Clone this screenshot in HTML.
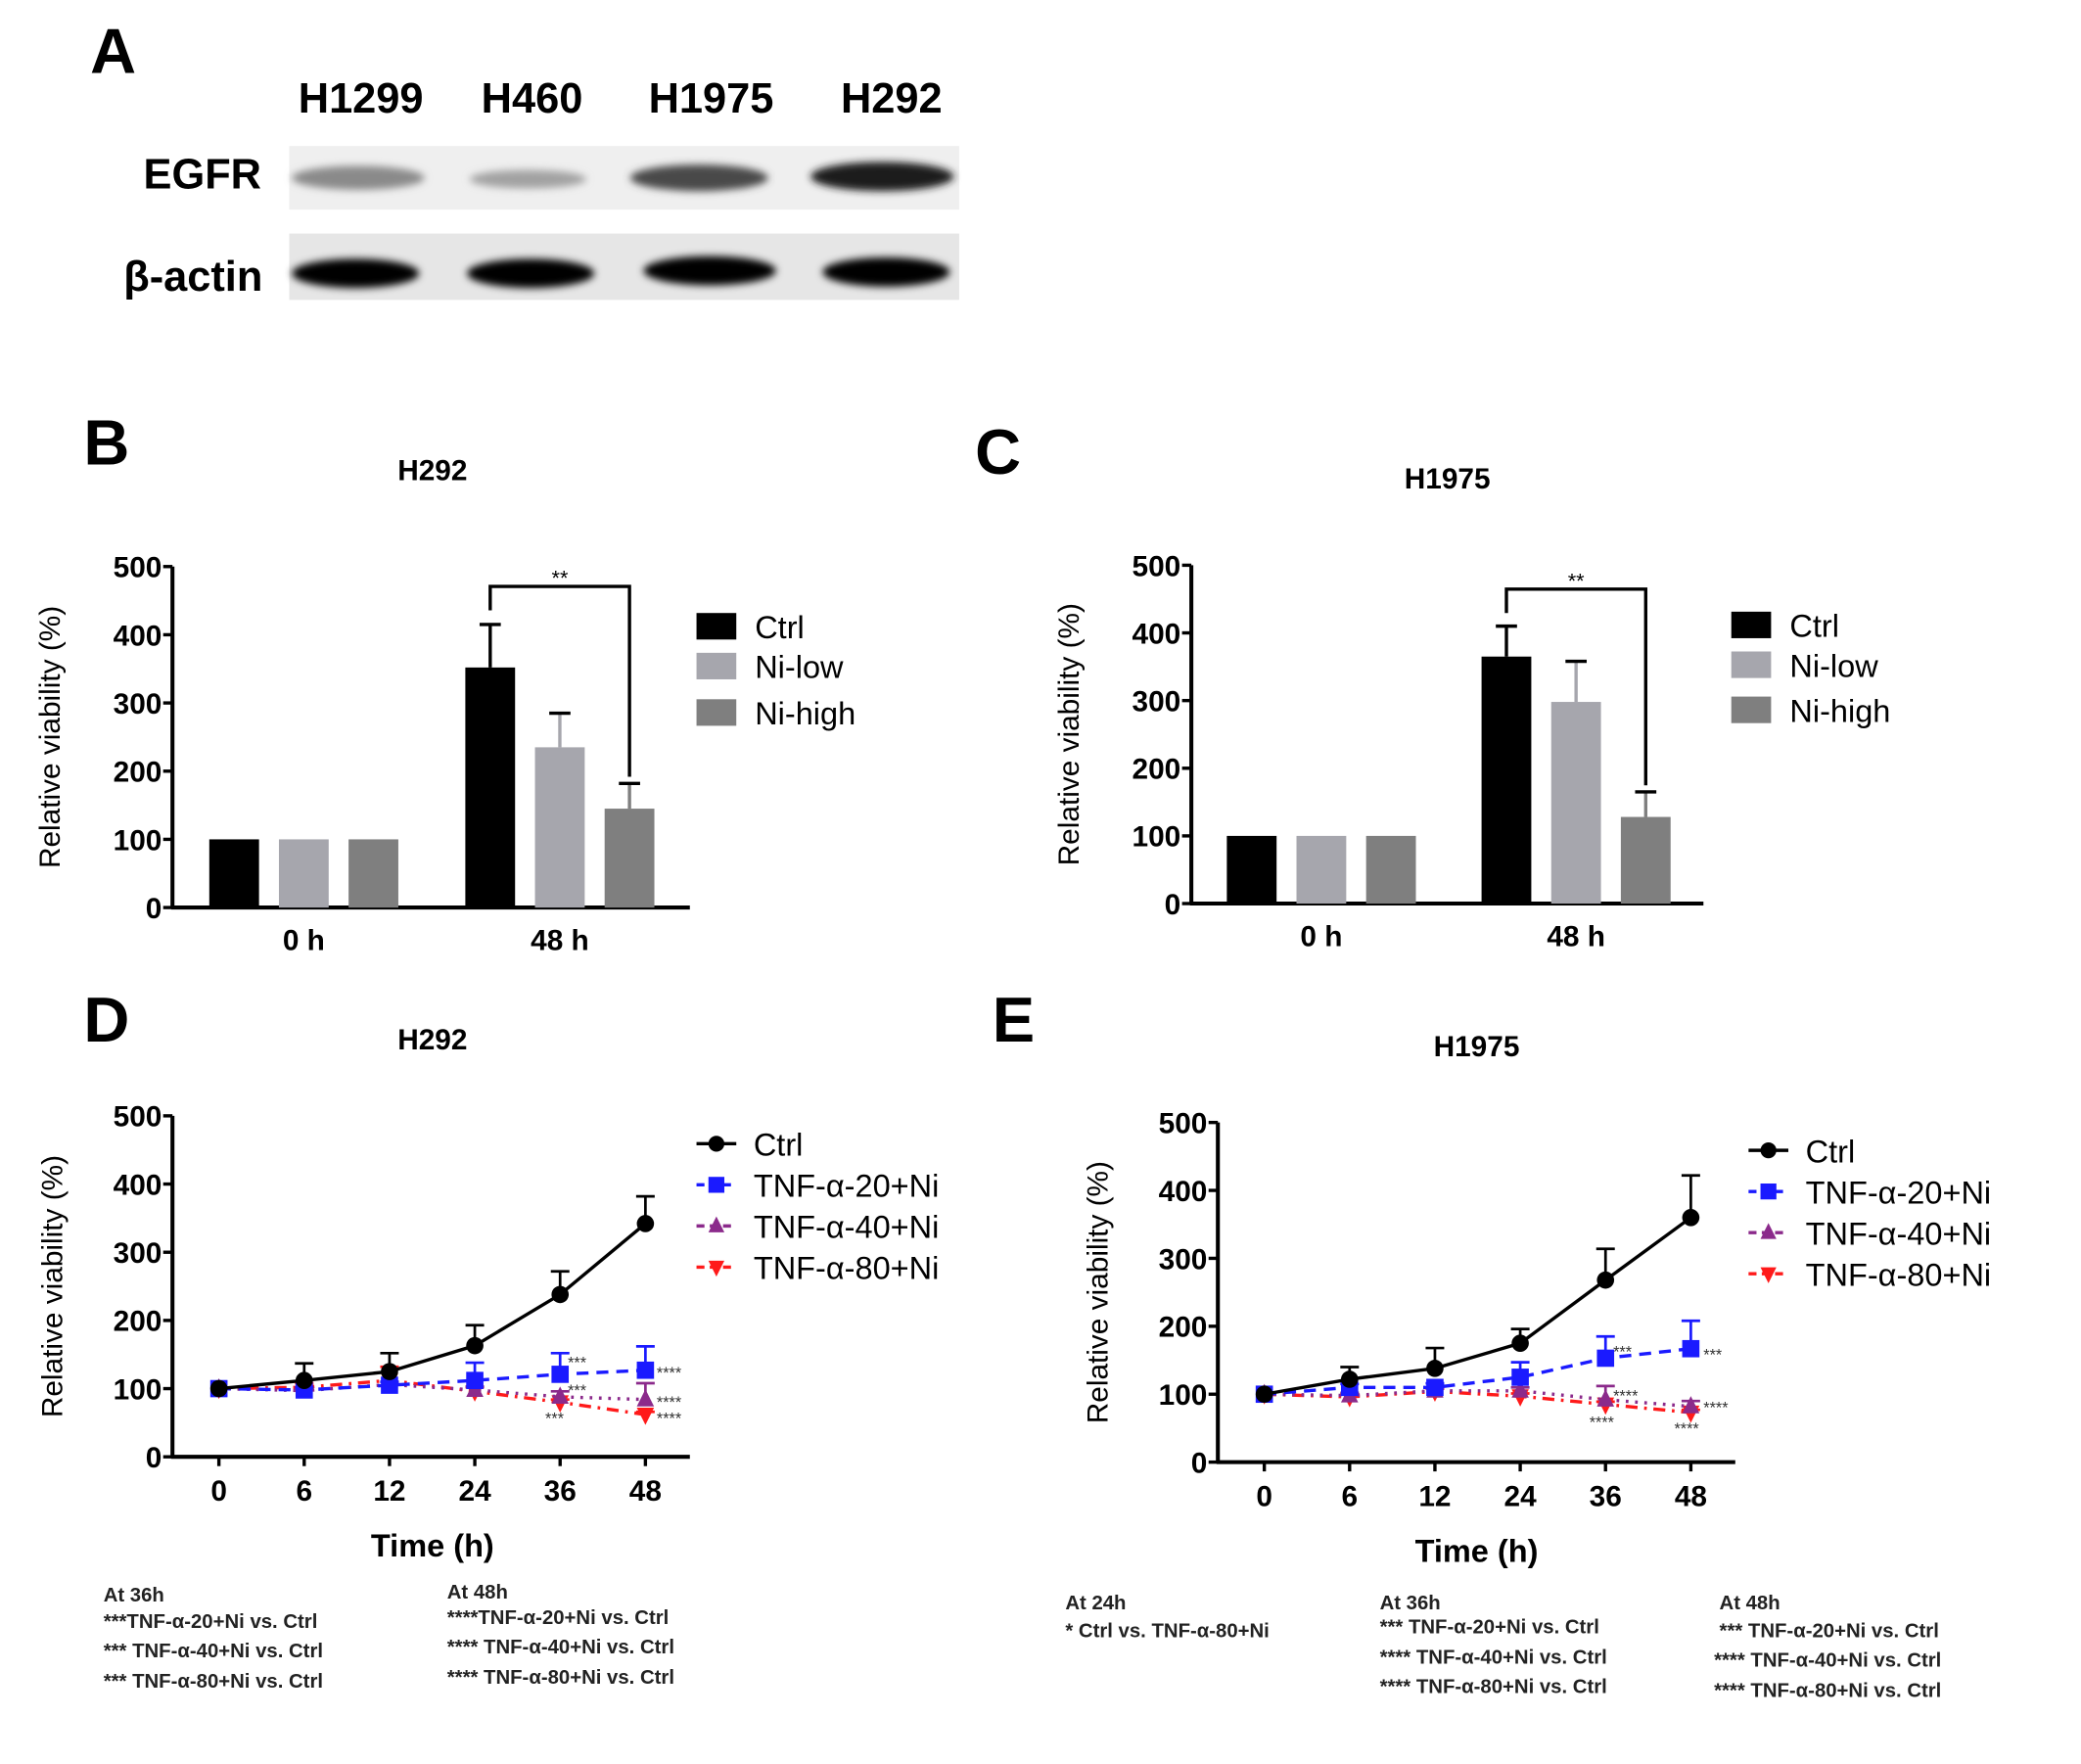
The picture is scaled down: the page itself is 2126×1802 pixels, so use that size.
<!DOCTYPE html>
<html><head><meta charset="utf-8"><style>
html,body{margin:0;padding:0;background:#fff;}
svg{display:block;font-family:"Liberation Sans",Arial,sans-serif;}
</style></head><body>
<svg id="fig" xmlns="http://www.w3.org/2000/svg" width="2126" height="1802" viewBox="0 0 1568.6 1329.5">
<rect width="1570" height="1330" fill="#fff"/>
<defs>
<filter id="blur" x="-20%" y="-50%" width="140%" height="200%"><feGaussianBlur stdDeviation="3"/></filter>
</defs>
<g>
<text x="68" y="55" font-size="48" font-weight="bold">A</text>
<g font-size="32" font-weight="bold" text-anchor="middle">
<text x="272" y="85">H1299</text>
<text x="401" y="85">H460</text>
<text x="536" y="85">H1975</text>
<text x="672" y="85">H292</text>
</g>
<text x="197" y="142" font-size="32" font-weight="bold" text-anchor="end">EGFR</text>
<text x="198" y="219" font-size="32" font-weight="bold" text-anchor="end">β-actin</text>
<rect x="218" y="110" width="505" height="48" fill="#efefef"/>
<rect x="218" y="176" width="505" height="50" fill="#e6e6e6"/>
<g filter="url(#blur)">
<ellipse cx="270" cy="134" rx="50" ry="9" fill="#8a8a8a"/>
<ellipse cx="398" cy="135" rx="44" ry="7" fill="#a2a2a2"/>
<ellipse cx="527" cy="134" rx="52" ry="10" fill="#4a4a4a"/>
<ellipse cx="665" cy="133" rx="54" ry="11" fill="#1e1e1e"/>
<ellipse cx="268" cy="206" rx="48" ry="11" fill="#000"/>
<ellipse cx="400" cy="206" rx="48" ry="11" fill="#000"/>
<ellipse cx="535" cy="204" rx="50" ry="11" fill="#000"/>
<ellipse cx="668" cy="205" rx="48" ry="11" fill="#000"/>
</g>
</g>
<text x="63" y="350" font-size="48" font-weight="bold">B</text>
<text x="735" y="357" font-size="48" font-weight="bold">C</text>
<text x="63" y="785" font-size="48" font-weight="bold">D</text>
<text x="748" y="785" font-size="48" font-weight="bold">E</text>
<g id="charts"></g>
</svg>
<script>
const barGroups = ["0 h", "48 h"];
const barSeries = ["Ctrl", "Ni-low", "Ni-high"];
const barColors = ["#000000", "#a6a6ad", "#7f7f7f"];
const bValues = [[100, 100, 100], [352, 235, 145]];
const bErrors = [[0, 0, 0], [63, 50, 37]];
const cValues = [[100, 100, 100], [365, 298, 128]];
const cErrors = [[0, 0, 0], [45, 60, 37]];
const yTicks = [0, 100, 200, 300, 400, 500];
const timeLabels = ["0", "6", "12", "24", "36", "48"];
const lineSeries = ["Ctrl", "TNF-α-20+Ni", "TNF-α-40+Ni", "TNF-α-80+Ni"];
const dCtrl = [100, 112, 125, 163, 238, 342];
const dCtrlErr = [0, 25, 27, 30, 34, 40];
const dT20 = [100, 98, 105, 112, 121, 127];
const dT20Err = [0, 4, 5, 26, 31, 35];
const dT40 = [100, 97, 106, 98, 88, 84];
const dT40Err = [0, 3, 4, 5, 8, 24];
const dT80 = [100, 102, 112, 96, 80, 62];
const dT80Err = [0, 6, 20, 6, 4, 4];
const eCtrl = [100, 122, 138, 175, 268, 360];
const eCtrlErr = [0, 18, 30, 21, 46, 62];
const eT20 = [100, 110, 110, 125, 153, 167];
const eT20Err = [0, 5, 6, 22, 32, 41];
const eT40 = [100, 98, 105, 105, 92, 82];
const eT40Err = [0, 4, 4, 5, 20, 8];
const eT80 = [100, 96, 104, 97, 85, 73];
const eT80Err = [0, 4, 4, 4, 4, 4];

const NS = "http://www.w3.org/2000/svg";
const root = document.getElementById("charts");
function mk(tag, attrs, parent, text) {
  const e = document.createElementNS(NS, tag);
  for (const k in attrs) e.setAttribute(k, attrs[k]);
  if (text !== undefined) e.textContent = text;
  (parent || root).appendChild(e);
  return e;
}

function yAxis(g, x0, yTop, yBot, xEnd, title, titleX) {
  const ys = v => yBot - (v / 500) * (yBot - yTop);
  let a = mk("line", {x1: x0, y1: yTop, x2: x0, y2: yBot + 1, stroke: "#000", "stroke-width": 3}, g);
  
  
  a = mk("line", {x1: x0 - 1, y1: yBot, x2: xEnd, y2: yBot, stroke: "#000", "stroke-width": 3}, g);
  
  
  yTicks.forEach(t => {
    mk("line", {x1: x0 - 7, y1: ys(t), x2: x0, y2: ys(t), stroke: "#000", "stroke-width": 2.5}, g);
    const tl = mk("text", {x: x0 - 8, y: ys(t) + 8, "font-size": 22, "font-weight": "bold", "text-anchor": "end"}, g, String(t));
    
    
  });
  const tt = mk("text", {x: 0, y: 0, "font-size": 22, "text-anchor": "middle", transform: `translate(${titleX},${(yTop + yBot) / 2}) rotate(-90)`}, g, title);
  
  
  return ys;
}

function barChart(name, cfg, values, errors) {
  const g = mk("g", {});
  
  
  const t = mk("text", {x: cfg.titleX, y: cfg.titleY, "font-size": 22, "font-weight": "bold", "text-anchor": "middle"}, g, cfg.title);
  
  
  const ys = yAxis(g, cfg.x0, cfg.yTop, cfg.yBot, cfg.xEnd, "Relative viability (%)", cfg.x0 - 85);
  const bw = 37.5;
  barGroups.forEach((grp, gi) => {
    const gx = cfg.groupX[gi];
    barSeries.forEach((s, si) => {
      const x = gx + (si - 1) * 52.5 - bw / 2;
      const v = values[gi][si];
      const r = mk("rect", {x: x, y: ys(v), width: bw, height: ys(0) - ys(v), fill: barColors[si]}, g);
      
      
      const e = errors[gi][si];
      if (e > 0) {
        mk("line", {x1: x + bw / 2, y1: ys(v), x2: x + bw / 2, y2: ys(v + e), stroke: barColors[si], "stroke-width": 2.5}, g);
        mk("line", {x1: x + bw / 2 - 8, y1: ys(v + e), x2: x + bw / 2 + 8, y2: ys(v + e), stroke: "#000", "stroke-width": 2.5}, g);
      }
    });
    const xl = mk("text", {x: gx, y: cfg.yBot + 32, "font-size": 22, "font-weight": "bold", "text-anchor": "middle"}, g, grp);
    
    
  });
  const xa = cfg.groupX[1] - 52.5, xb = cfg.groupX[1] + 52.5;
  const top = ys(values[1][0] + errors[1][0]) - 12;
  const by = Math.min(top, cfg.bracketY);
  const br = mk("path", {d: `M${xa},${by + 18} V${by} H${xb} V${ys(values[1][2] + errors[1][2]) - 5}`, fill: "none", stroke: "#000", "stroke-width": 2.5}, g);
  
  
  const st = mk("text", {x: (xa + xb) / 2, y: by - 1, "font-size": 16, "text-anchor": "middle"}, g, "**");
  
  
  barSeries.forEach((s, si) => {
    const ly = cfg.legY[si];
    const lg = mk("g", {}, g);
    
    
    mk("rect", {x: cfg.legX, y: ly - 10, width: 30, height: 20, fill: barColors[si]}, lg);
    mk("text", {x: cfg.legX + 44, y: ly + 9, "font-size": 24}, lg, s);
  });
}

barChart("panel-b-bar-chart", {title: "H292", titleX: 326, titleY: 362, x0: 130, yTop: 427, yBot: 684, xEnd: 520, groupX: [229, 422], bracketY: 442, legX: 525, legY: [472, 502, 537]}, bValues, bErrors);
barChart("panel-c-bar-chart", {title: "H1975", titleX: 1091, titleY: 368, x0: 898, yTop: 426, yBot: 681, xEnd: 1284, groupX: [996, 1188], bracketY: 444, legX: 1305, legY: [471, 501, 535]}, cValues, cErrors);

const lineColors = ["#000", "#1a1aff", "#8b2a8b", "#ff1a1a"];
const lineDash = ["", "9,6", "2,5", "9,5,2,5"];
const markers = ["circle", "square", "up", "down"];
function marker(g, type, x, y, color, s) {
  if (type === "circle") return mk("circle", {cx: x, cy: y, r: s, fill: color}, g);
  if (type === "square") return mk("rect", {x: x - s, y: y - s, width: 2 * s, height: 2 * s, fill: color}, g);
  if (type === "up") return mk("path", {d: `M${x},${y - s * 1.2} L${x + s},${y + s * 0.8} L${x - s},${y + s * 0.8}Z`, fill: color}, g);
  return mk("path", {d: `M${x},${y + s * 1.2} L${x + s},${y - s * 0.8} L${x - s},${y - s * 0.8}Z`, fill: color}, g);
}

function lineChart(name, cfg, series, errs, stars, notes) {
  const g = mk("g", {});
  
  
  const t = mk("text", {x: cfg.titleX, y: cfg.titleY, "font-size": 22, "font-weight": "bold", "text-anchor": "middle"}, g, cfg.title);
  
  
  const ys = yAxis(g, cfg.x0, cfg.yTop, cfg.yBot, cfg.xEnd, "Relative viability (%)", cfg.x0 - 83);
  const xs = i => cfg.x0 + 35 + i * 64.3;
  timeLabels.forEach((l, i) => {
    mk("line", {x1: xs(i), y1: cfg.yBot, x2: xs(i), y2: cfg.yBot + 7, stroke: "#000", "stroke-width": 2.5}, g);
    const tl = mk("text", {x: xs(i), y: cfg.yBot + 33, "font-size": 22, "font-weight": "bold", "text-anchor": "middle"}, g, l);
    
    
  });
  const xt = mk("text", {x: cfg.titleX, y: cfg.yBot + 75, "font-size": 24, "font-weight": "bold", "text-anchor": "middle"}, g, "Time (h)");
  
  
  for (let si = series.length - 1; si >= 0; si--) {
    const sg = mk("g", {}, g);
    
    
    const vals = series[si], er = errs[si], c = lineColors[si];
    vals.forEach((v, i) => {
      if (er[i] > 0) {
        mk("line", {x1: xs(i), y1: ys(v), x2: xs(i), y2: ys(v + er[i]), stroke: c, "stroke-width": 2}, sg);
        mk("line", {x1: xs(i) - 7, y1: ys(v + er[i]), x2: xs(i) + 7, y2: ys(v + er[i]), stroke: c, "stroke-width": 2}, sg);
      }
    });
    const pl = mk("polyline", {points: vals.map((v, i) => xs(i) + "," + ys(v)).join(" "), fill: "none", stroke: c, "stroke-width": 2.5, "stroke-dasharray": lineDash[si]}, sg);
    
    
    vals.forEach((v, i) => {
      const m = marker(sg, markers[si], xs(i), ys(v), c, 6.5);
      
      
    });
  }
  stars.forEach(s => {
    const st = mk("text", {x: s[0], y: s[1], "font-size": 12, fill: "#333"}, g, s[2]);
    
    
  });
  lineSeries.forEach((s, si) => {
    const ly = cfg.legY[si];
    const lg = mk("g", {}, g);
    
    
    mk("line", {x1: cfg.legX, y1: ly, x2: cfg.legX + 30, y2: ly, stroke: lineColors[si], "stroke-width": 2.5, "stroke-dasharray": lineDash[si] ? "6,4" : ""}, lg);
    marker(lg, markers[si], cfg.legX + 15, ly, lineColors[si], 6);
    mk("text", {x: cfg.legX + 43, y: ly + 9, "font-size": 24}, lg, s);
  });
  notes.forEach(n => {
    const nt = mk("text", {x: n[0], y: n[1], "font-size": 15, "font-weight": "bold", fill: "#222"}, g, n[2]);
    
    
  });
}

lineChart("panel-d-line-chart", {title: "H292", titleX: 326, titleY: 791, x0: 130, yTop: 841, yBot: 1098, xEnd: 520, legX: 525, legY: [862, 893, 924, 955]},
  [dCtrl, dT20, dT40, dT80], [dCtrlErr, dT20Err, dT40Err, dT80Err],
  [[428, 1031, "***"], [495, 1039, "****"], [428, 1052, "***"], [495, 1061, "****"], [411, 1073, "***"], [495, 1073, "****"]],
  [[78, 1207, "At 36h"], [78, 1227, "***TNF-α-20+Ni  vs. Ctrl"], [78, 1249, "*** TNF-α-40+Ni  vs. Ctrl"], [78, 1272, "*** TNF-α-80+Ni  vs. Ctrl"],
   [337, 1205, "At 48h"], [337, 1224, "****TNF-α-20+Ni  vs. Ctrl"], [337, 1246, "**** TNF-α-40+Ni  vs. Ctrl"], [337, 1269, "**** TNF-α-80+Ni  vs. Ctrl"]]);

lineChart("panel-e-line-chart", {title: "H1975", titleX: 1113, titleY: 796, x0: 918, yTop: 846, yBot: 1102, xEnd: 1308, legX: 1318, legY: [867, 898, 929, 960]},
  [eCtrl, eT20, eT40, eT80], [eCtrlErr, eT20Err, eT40Err, eT80Err],
  [[1216, 1023, "***"], [1284, 1025, "***"], [1216, 1056, "****"], [1284, 1065, "****"], [1198, 1076, "****"], [1262, 1081, "****"]],
  [[803, 1213, "At 24h"], [803, 1234, "* Ctrl vs. TNF-α-80+Ni"],
   [1040, 1213, "At 36h"], [1040, 1231, "***  TNF-α-20+Ni  vs. Ctrl"], [1040, 1254, "**** TNF-α-40+Ni  vs. Ctrl"], [1040, 1276, "**** TNF-α-80+Ni  vs. Ctrl"],
   [1296, 1213, "At 48h"], [1296, 1234, "***  TNF-α-20+Ni  vs. Ctrl"], [1292, 1256, "**** TNF-α-40+Ni  vs. Ctrl"], [1292, 1279, "**** TNF-α-80+Ni  vs. Ctrl"]]);
</script>
</body></html>
